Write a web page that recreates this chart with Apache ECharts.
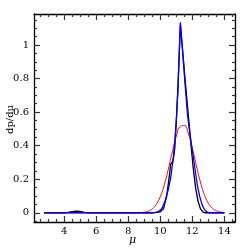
<!DOCTYPE html>
<html><head><meta charset="utf-8">
<script src="https://cdn.jsdelivr.net/npm/echarts@6/dist/echarts.min.js"></script>
<style>html,body{margin:0;padding:0;background:#fff}#c{width:249px;height:249px}</style>
</head><body><div id="c"></div>
<script>
// ---- data ----
const blackMu  = [2.75,4.0,4.25,4.5,4.75,5.0,5.25,5.5,9.5,9.8,10.0,10.2,10.4,10.55,10.65,10.8,10.9,11.0,11.1,11.25,11.4,11.55,11.75,11.9,12.05,12.2,12.35,12.5,12.65,12.8,14.0];
const blackVal = [0,0,0.002,0.007,0.01,0.008,0.003,0,0,0.002,0.006,0.025,0.1,0.21,0.29,0.31,0.38,0.55,0.75,1.12,0.96,0.79,0.58,0.42,0.27,0.15,0.07,0.025,0.005,0,0];
const blueMu   = [2.75,9.5,9.7,9.9,10.1,10.3,10.5,10.65,10.8,10.9,11.0,11.1,11.25,11.4,11.55,11.7,11.85,12.0,12.15,12.3,12.45,12.6,12.75,12.9,13.1,14.0];
const blueVal  = [0,0,0.002,0.008,0.025,0.07,0.14,0.21,0.32,0.42,0.55,0.73,1.135,0.95,0.76,0.58,0.47,0.37,0.27,0.17,0.1,0.05,0.02,0.005,0,0];
const redMu    = [2.75,8.0,8.5,8.75,9.0,9.25,9.5,9.75,10.0,10.25,10.5,10.75,11.0,11.25,11.5,11.75,12.0,12.25,12.5,12.75,13.0,13.25,13.5,13.75,14.0];
const redVal   = [0,0.0001,0.0004,0.0012,0.0036,0.0096,0.023,0.05,0.096,0.167,0.26,0.364,0.457,0.515,0.52,0.472,0.384,0.281,0.184,0.108,0.057,0.027,0.012,0.0044,0.0015];
const xMajorTicks = [4,6,8,10,12,14];
const xMinorTicks = [2.5,3,3.5,4.5,5,5.5,6.5,7,7.5,8.5,9,9.5,10.5,11,11.5,12.5,13,13.5,14.5];
const yMajorTicks = [0,0.2,0.4,0.6,0.8,1];
const yMinorTicks = [-0.05,0.05,0.1,0.15,0.25,0.3,0.35,0.45,0.5,0.55,0.65,0.7,0.75,0.85,0.9,0.95,1.05,1.1,1.15];
const xLabel = 'μ';
const yLabel = 'dp/dμ';
const xRange = [2.12, 14.66];
const yRange = [-0.055, 1.185];

const pairs = (a,b) => a.map((v,i)=>[v,b[i]]);
const font = 'DejaVu Serif';
const tickColor = '#333';

function xAx(pos, major, labels, show) {
  return {
    type:'value', position:pos, min:xRange[0], max:xRange[1],
    axisLine:{show:show, onZero:false, lineStyle:{color:'#000', width:1.3}},
    axisTick:{show:true, inside:true, length: major?6:3, customValues: major?xMajorTicks:xMinorTicks, lineStyle:{color:tickColor, width:1.2}},
    axisLabel:{show:labels, customValues:xMajorTicks, color:'#000', fontFamily:font, fontSize:10, margin:4},
    splitLine:{show:false}
  };
}
function yAx(pos, major, labels, show) {
  return {
    type:'value', position:pos, min:yRange[0], max:yRange[1],
    axisLine:{show:show, onZero:false, lineStyle:{color:'#000', width:1.3}},
    axisTick:{show:true, inside:true, length: major?6:3, customValues: major?yMajorTicks:yMinorTicks, lineStyle:{color:tickColor, width:1.2}},
    axisLabel:{show:labels, customValues:yMajorTicks, color:'#000', fontFamily:font, fontSize:10, margin:5,
      formatter: v => String(Math.round(v*10)/10)},
    splitLine:{show:false}
  };
}

const chart = echarts.init(document.getElementById('c'), null, {renderer:'canvas'});
chart.setOption({
  animation:false,
  backgroundColor:'#fff',
  grid:{left:34, right:14, top:14, bottom:27, containLabel:false},
  xAxis:[xAx('bottom',true,true,true), xAx('bottom',false,false,false), xAx('top',true,false,true), xAx('top',false,false,false)],
  yAxis:[yAx('left',true,true,true), yAx('left',false,false,false), yAx('right',true,false,true), yAx('right',false,false,false)],
  graphic:[
    {type:'text', left:129, top:235, style:{text:xLabel, font:'italic 11px "DejaVu Serif"', fill:'#000'}},
    {type:'text', x:5, y:134, rotation:Math.PI/2, style:{text:yLabel, font:'10px "DejaVu Serif"', fill:'#000'}}
  ],
  series:[
    {type:'line', data:pairs(blackMu,blackVal), showSymbol:false, lineStyle:{color:'#000', width:1.3}, xAxisIndex:0, yAxisIndex:0},
    {type:'line', data:pairs(redMu,redVal), smooth:true, showSymbol:false, lineStyle:{color:'#ff0000', width:1}, xAxisIndex:0, yAxisIndex:0},
    {type:'line', data:pairs(blueMu,blueVal), showSymbol:false, lineStyle:{color:'#0000ff', width:1.3}, xAxisIndex:0, yAxisIndex:0}
  ]
});
</script></body></html>
